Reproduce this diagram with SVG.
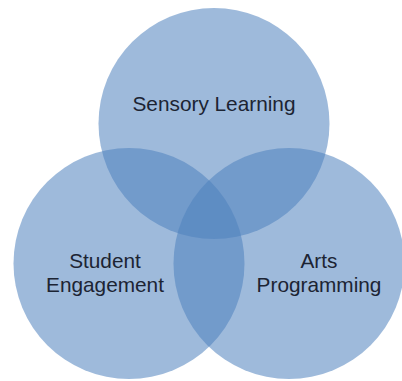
<svg xmlns="http://www.w3.org/2000/svg" width="402" height="381" viewBox="0 0 402 381">
<style>
.c{fill:#4F81BD;fill-opacity:0.55;}
.t{font-family:"Liberation Sans",Arial,sans-serif;font-size:20.8px;fill:#1c2433;text-anchor:middle;}
</style>
<rect width="402" height="381" fill="#ffffff"/>
<g id="sensory-learning">
<circle class="c" cx="214" cy="123.5" r="115.5"/>
<text class="t" x="214" y="111">Sensory Learning</text>
</g>
<g id="student-engagement">
<circle class="c" cx="129" cy="263.5" r="115.5"/>
<text class="t" x="105" y="268">Student</text>
<text class="t" x="105" y="292">Engagement</text>
</g>
<g id="arts-programming">
<circle class="c" cx="289" cy="263.5" r="115.5"/>
<text class="t" x="319" y="268">Arts</text>
<text class="t" x="319" y="292">Programming</text>
</g>
<g id="connectors"></g>
</svg>
